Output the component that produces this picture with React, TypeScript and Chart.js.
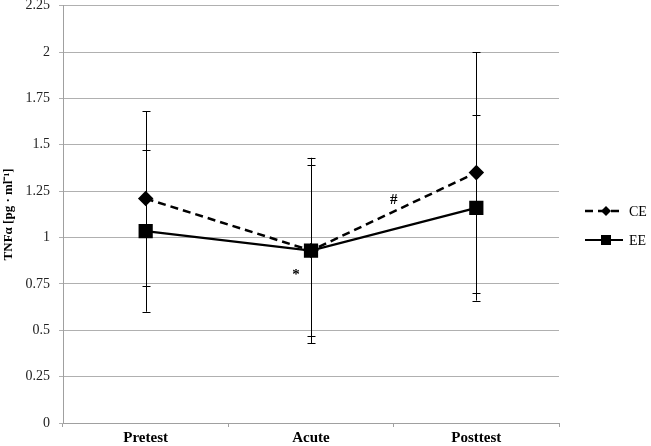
import React, { useEffect, useRef } from 'react';
import { Chart, registerables } from 'chart.js';

Chart.register(...registerables);

// ---- data ----
const categories = ['Pretest', 'Acute', 'Posttest'];
const ceMean = [1.21, 0.93, 1.35];
const ceErr = [0.47, 0.5, 0.65];
const eeMean = [1.035, 0.93, 1.16];
const eeErr = [0.435, 0.46, 0.5];
const yMin = 0;
const yMax = 2.25;
const yStep = 0.25;
const yTitle = 'TNFα [pg · ml⁻¹]';
const seriesNames = ['CE', 'EE'];
// annotation marks, in data coordinates (category index, value)
const marks = [
  { text: '*', x: 0.91, y: 0.8 },
  { text: '#', x: 1.5, y: 1.2 },
];

const SERIF = '"Liberation Serif", "Times New Roman", serif';
const SHIFT = 5; // canvas is drawn 5px above the page top

const overlayPlugin = {
  id: 'overlay',
  afterDatasetsDraw(chart: any) {
    const ctx = chart.ctx;
    const yScale = chart.scales.y;
    const xScale = chart.scales.x;
    const errs = [ceErr, eeErr];
    ctx.save();
    ctx.strokeStyle = '#000';
    ctx.lineWidth = 1;
    chart.data.datasets.forEach((ds: any, di: number) => {
      const meta = chart.getDatasetMeta(di);
      meta.data.forEach((pt: any, i: number) => {
        const v = ds.data[i];
        const e = errs[di][i];
        const x = Math.round(pt.x) + 0.5;
        const yTop = yScale.getPixelForValue(v + e);
        const yBot = yScale.getPixelForValue(v - e);
        ctx.beginPath();
        ctx.moveTo(x, yTop);
        ctx.lineTo(x, yBot);
        ctx.moveTo(x - 4, Math.round(yTop) + 0.5);
        ctx.lineTo(x + 4, Math.round(yTop) + 0.5);
        ctx.moveTo(x - 4, Math.round(yBot) + 0.5);
        ctx.lineTo(x + 4, Math.round(yBot) + 0.5);
        ctx.stroke();
      });
    });
    // annotation marks
    ctx.fillStyle = '#000';
    ctx.font = 'bold 15px ' + SERIF;
    ctx.textAlign = 'center';
    ctx.textBaseline = 'middle';
    marks.forEach((m) => {
      ctx.fillText(m.text, xScale.getPixelForValue(m.x), yScale.getPixelForValue(m.y));
    });
    ctx.restore();
  },
  afterDraw(chart: any) {
    const ctx = chart.ctx;
    const area = chart.chartArea;
    const x0 = area.right + 26;
    const x1 = x0 + 38;
    const ys = [211 + SHIFT, 240 + SHIFT];
    ctx.save();
    chart.data.datasets.forEach((ds: any, di: number) => {
      const y = ys[di];
      ctx.strokeStyle = '#000';
      ctx.lineWidth = ds.borderWidth;
      ctx.setLineDash(ds.borderDash || []);
      ctx.beginPath();
      ctx.moveTo(x0, y);
      ctx.lineTo(x1, y);
      ctx.stroke();
      ctx.setLineDash([]);
      ctx.fillStyle = '#000';
      const cx = (x0 + x1) / 2 + 2;
      if (ds.pointStyle === 'rect') {
        ctx.fillRect(cx - 5, y - 5, 10, 10);
      } else {
        ctx.beginPath();
        ctx.moveTo(cx, y - 5);
        ctx.lineTo(cx + 5, y);
        ctx.lineTo(cx, y + 5);
        ctx.lineTo(cx - 5, y);
        ctx.closePath();
        ctx.fill();
      }
      ctx.font = '14px ' + SERIF;
      ctx.textAlign = 'left';
      ctx.textBaseline = 'middle';
      ctx.fillText(seriesNames[di], x1 + 6, y + 1);
    });
    ctx.restore();
  },
};

export default function App() {
  const ref = useRef<HTMLCanvasElement | null>(null);

  useEffect(() => {
    document.body.style.margin = '0';
    document.body.style.overflow = 'hidden';
    const canvas = ref.current;
    if (!canvas) return;
    const chart = new Chart(canvas, {
      type: 'line',
      data: {
        labels: categories,
        datasets: [
          {
            label: seriesNames[0],
            data: ceMean,
            borderColor: '#000',
            backgroundColor: '#000',
            borderWidth: 2.5,
            borderDash: [8, 5],
            pointStyle: 'rectRot',
            pointRadius: 6,
            pointBackgroundColor: '#000',
            pointBorderColor: '#000',
            tension: 0,
          },
          {
            label: seriesNames[1],
            data: eeMean,
            borderColor: '#000',
            backgroundColor: '#000',
            borderWidth: 2.2,
            pointStyle: 'rect',
            pointRadius: 8.5,
            pointBackgroundColor: '#000',
            pointBorderColor: '#000',
            tension: 0,
          },
        ],
      },
      options: {
        responsive: false,
        animation: false,
        devicePixelRatio: 1,
        layout: { padding: { top: 0, right: 92, bottom: 0, left: 0 } },
        plugins: {
          legend: { display: false },
          tooltip: { enabled: false },
        },
        scales: {
          x: {
            type: 'category',
            offset: true,
            grid: {
              offset: true,
              drawOnChartArea: false,
              drawTicks: true,
              tickLength: 4,
              color: '#a0a0a0',
            },
            border: { display: true, color: '#a0a0a0', width: 1 },
            ticks: {
              color: '#000',
              font: { family: SERIF, size: 15, weight: 'bold' },
              padding: 2,
              maxRotation: 0,
            },
            afterFit: (s: any) => {
              s.height = 23;
              s.paddingLeft = 0;
              s.paddingRight = 0;
            },
          },
          y: {
            min: yMin,
            max: yMax,
            grid: { color: '#b0b0b0', tickLength: 4, lineWidth: 1 },
            border: { display: true, color: '#a0a0a0', width: 1 },
            ticks: {
              stepSize: yStep,
              color: '#222',
              font: { family: SERIF, size: 14 },
              padding: 9,
              callback: (v: any) => String(Number(v)),
            },
            title: {
              display: true,
              text: yTitle,
              color: '#000',
              font: { family: SERIF, size: 13, weight: 'bold' },
              padding: { top: 1, bottom: 0 },
            },
            afterFit: (s: any) => {
              s.width = 63;
              s.paddingTop = 0;
              s.paddingBottom = 0;
            },
          },
        },
      },
      plugins: [overlayPlugin],
    } as any);
    return () => chart.destroy();
  }, []);

  return (
    <div style={{ width: 651, height: 446, overflow: 'hidden' }}>
      <canvas
        ref={ref}
        width={651}
        height={446 + SHIFT}
        style={{ display: 'block', width: 651, height: 446 + SHIFT, marginTop: -SHIFT }}
      />
    </div>
  );
}
